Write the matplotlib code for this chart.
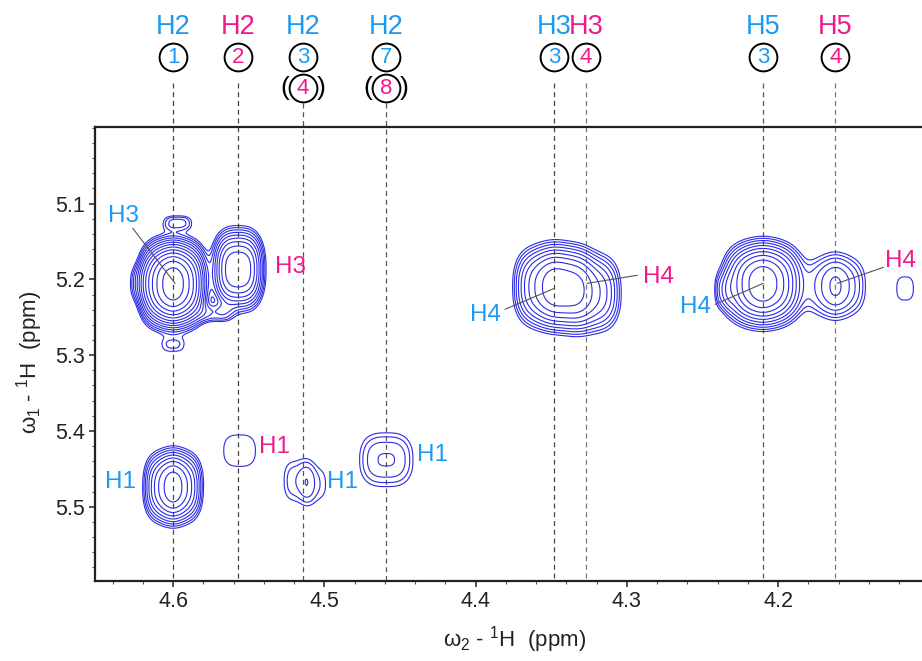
import numpy as np
import matplotlib
matplotlib.use('Agg')
import matplotlib.pyplot as plt
import matplotlib.transforms as mtransforms
from matplotlib.ticker import MultipleLocator

plt.rcParams['font.family'] = ['Liberation Sans', 'DejaVu Sans']
plt.rcParams['mathtext.fontset'] = 'custom'
plt.rcParams['mathtext.rm'] = 'Liberation Sans'
plt.rcParams['mathtext.it'] = 'Liberation Sans'

BLUE = '#1a9af2'
PINK = '#f0198c'
CONTOUR = '#2b2be6'

# cross peaks: w2 shift, w1 shift, line widths, height, doublet splitting in w2
peak_w2 = [4.600, 4.597, 4.600, 4.622, 4.557, 4.572, 4.348, 4.324, 4.210, 4.236, 4.162, 4.116,
           4.600, 4.556, 4.518, 4.505, 4.459]
peak_w1 = [5.206, 5.125, 5.288, 5.205, 5.187, 5.245, 5.210, 5.218, 5.206, 5.215, 5.209, 5.212,
           5.474, 5.426, 5.466, 5.470, 5.438]
peak_sx = [0.0112, 0.0083, 0.0080, 0.0060, 0.0107, 0.0090, 0.0137, 0.0140, 0.0142, 0.0050, 0.0120, 0.0068,
           0.0101, 0.0137, 0.0087, 0.0080, 0.0150]
peak_sy = [0.0306, 0.0080, 0.0090, 0.0180, 0.0304, 0.0090, 0.0330, 0.0330, 0.0317, 0.0180, 0.0297, 0.0200,
           0.0288, 0.0290, 0.0260, 0.0250, 0.0290]
peak_amp = [30.0, 1.8, 1.25, 1.4, 10.6, 1.8, 10.6, 4.6, 13.8, 1.5, 4.2, 1.3,
            10.6, 1.25, 1.6, 1.2, 2.25]
peak_split = [0.010, 0.0, 0.0, 0.0, 0.004, 0.0, 0.014, 0.0, 0.012, 0.0, 0.012, 0.0,
              0.010, 0.0, 0.0, 0.0, 0.0]

# assignment columns above the spectrum
col_ppm = [4.600, 4.557, 4.514, 4.459, 4.348, 4.327, 4.210, 4.162]
col_atom = ['H2', 'H2', 'H2', 'H2', 'H3', 'H3', 'H5', 'H5']
col_res = ['1', '2', '3', '7', '3', '4', '3', '4']
col_res_color = [BLUE, PINK, BLUE, BLUE, BLUE, PINK, BLUE, PINK]
col_alt = [None, None, '4', '8', None, None, None, None]
col_line = ['#444444', '#444444', '#555555', '#555555', '#444444', '#777777', '#555555', '#777777']

# in-plot labels: text, color, text position, optional leader line (from, to)
labels = [
    ('H3', BLUE, (4.633, 5.116), ((4.6265, 5.133), (4.5987, 5.2053))),
    ('H3', PINK, (4.5226, 5.184), None),
    ('H4', BLUE, (4.3937, 5.247), ((4.3804, 5.2395), (4.348, 5.212))),
    ('H4', PINK, (4.2792, 5.197), ((4.2931, 5.1947), (4.3262, 5.2053))),
    ('H4', BLUE, (4.2548, 5.2368), ((4.2415, 5.2329), (4.2098, 5.2053))),
    ('H4', PINK, (4.1192, 5.1763), ((4.1304, 5.1842), (4.1608, 5.2053))),
    ('H1', BLUE, (4.635, 5.468), None),
    ('H1', PINK, (4.5326, 5.421), None),
    ('H1', BLUE, (4.4882, 5.468), None),
    ('H1', BLUE, (4.4287, 5.4316), None),
]

QX, QY = 3.0, 2.4


def spectrum(xx, yy):
    z = np.zeros_like(xx)
    for x0, y0, sx, sy, a, s in zip(peak_w2, peak_w1, peak_sx, peak_sy, peak_amp, peak_split):
        gx = 0.5 * (np.exp(-np.abs((xx - x0 - s / 2) / sx) ** QX / 2) +
                    np.exp(-np.abs((xx - x0 + s / 2) / sx) ** QX / 2))
        gy = np.exp(-np.abs((yy - y0) / sy) ** QY / 2)
        z += a * gx * gy
    return z


fig = plt.figure(figsize=(9.22, 6.61), dpi=100)
ax = fig.add_axes([95 / 922, 80 / 661, 1 - 95 / 922, 454 / 661])

xs = np.linspace(4.66, 4.09, 700)
ys = np.linspace(4.99, 5.61, 700)
X, Y = np.meshgrid(xs, ys)
Z = spectrum(X, Y)
levels = 1.3 ** np.arange(0, 16)
ax.contour(X, Y, Z, levels=levels, colors=CONTOUR, linewidths=0.8)

ax.set_xlim(4.6516, 4.1048)
ax.set_ylim(5.598, 4.999)
ax.set_xticks([4.6, 4.5, 4.4, 4.3, 4.2])
ax.set_yticks([5.1, 5.2, 5.3, 5.4, 5.5])
ax.xaxis.set_minor_locator(MultipleLocator(0.02))
ax.yaxis.set_minor_locator(MultipleLocator(0.02))
ax.tick_params(which='major', direction='out', length=4.5, width=1.1, color='#222222',
               labelsize=15.5, labelcolor='#222222', pad=3)
ax.tick_params(which='minor', direction='out', length=2.2, width=0.8, color='#555555')
for side in ['left', 'bottom', 'top']:
    ax.spines[side].set_linewidth(1.6)
    ax.spines[side].set_color('#222222')
ax.spines['right'].set_visible(False)

trans = mtransforms.blended_transform_factory(ax.transData, ax.transAxes)
for x, atom, res, rc, alt, lc in zip(col_ppm, col_atom, col_res, col_res_color, col_alt, col_line):
    top = 1.053 if alt else 1.097
    ax.plot([x, x], [top, 0], transform=trans, color=lc, lw=0.9, ls=(0, (4, 3)),
            clip_on=False, zorder=1)
    ax.text(x, 1.221, atom, transform=trans, color=rc, fontsize=19.5,
            ha='center', va='center', clip_on=False)
    ax.plot([x], [1.154], transform=trans, marker='o', ms=20, mfc='none', mec='black',
            mew=1.4, clip_on=False)
    ax.text(x, 1.152, res, transform=trans, color=rc, fontsize=16,
            ha='center', va='center', clip_on=False)
    if alt:
        ax.plot([x], [1.086], transform=trans, marker='o', ms=20, mfc='none', mec='black',
                mew=1.4, clip_on=False)
        ax.text(x, 1.084, alt, transform=trans, color=PINK, fontsize=16,
                ha='center', va='center', clip_on=False)
        for txt, dx in [('(', -13.0), (')', 13.0)]:
            ax.annotate(txt, xy=(x, 1.086), xycoords=trans, xytext=(dx, 0),
                        textcoords='offset points', fontsize=19, color='black',
                        ha='center', va='center', annotation_clip=False)

for txt, color, pos, line in labels:
    ax.text(pos[0], pos[1], txt, color=color, fontsize=17.5, ha='center', va='center')
    if line:
        (x0, y0), (x1, y1) = line
        ax.plot([x0, x1], [y0, y1], color='#555555', lw=0.8)

fig.text(515 / 922, 1 - 640 / 661, r'$\omega_2$ - $^1$H  (ppm)', fontsize=16,
         color='#222222', ha='center', va='center')
fig.text(30 / 922, 1 - 362 / 661, r'$\omega_1$ - $^1$H  (ppm)', fontsize=16,
         color='#222222', ha='center', va='center', rotation=90)

fig.savefig('out.png', dpi=100)
